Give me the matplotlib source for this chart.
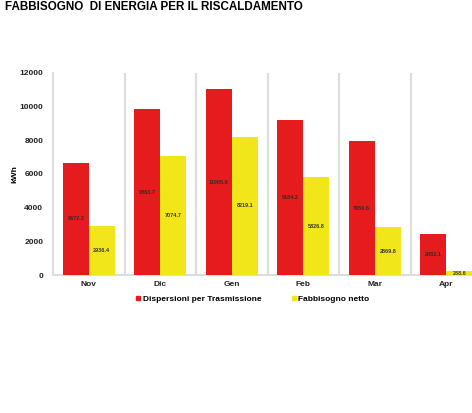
import matplotlib
matplotlib.use("Agg")
import matplotlib.pyplot as plt
from matplotlib.lines import Line2D
import numpy as np

plt.rcParams['font.family'] = ['Liberation Sans', 'DejaVu Sans']

months = ["Nov", "Dic", "Gen", "Feb", "Mar", "Apr"]
dispersioni = [6672.3, 9863.7, 11005.6, 9184.2, 7950.6, 2452.1]
fabbisogno = [2936.4, 7074.7, 8219.1, 5826.8, 2869.8, 238.6]
yticks = [0, 2000, 4000, 6000, 8000, 10000, 12000]
series_names = ["Dispersioni per Trasmissione", "Fabbisogno netto"]
title = "FABBISOGNO  DI ENERGIA PER IL RISCALDAMENTO"

RED = "#E61B1E"
YEL = "#F0E619"

W, H = 472, 413
fig = plt.figure(figsize=(W / 100, H / 100), dpi=100)
left, right = 53, 482
bottom, top = 275.3, 72.7
ax = fig.add_axes([left / W, (H - bottom) / H, (right - left) / W, (bottom - top) / H])

x = np.arange(len(months))
bw = 0.364
ax.bar(x - bw / 2, dispersioni, width=bw, color=RED, zorder=3)
ax.bar(x + bw / 2, fabbisogno, width=bw, color=YEL, zorder=3)

for xi, v in zip(x, dispersioni):
    ax.text(xi - bw / 2, v / 2, f"{v:.1f}", ha="center", va="center",
            fontsize=4, fontweight="bold", color="#3a2a2a", zorder=4)
for xi, v in zip(x, fabbisogno):
    ax.text(xi + bw / 2, max(v / 2, 120), f"{v:.1f}", ha="center", va="center",
            fontsize=4, fontweight="bold", color="#3a3a2a", zorder=4)

for i in range(len(months) - 1):
    ax.axvline(i + 0.5, color="#DDDDDD", lw=1.5, zorder=1)

ax.set_xlim(-0.5, len(months) - 0.5)
ax.set_ylim(0, 12000)
ax.set_yticks(yticks)
ax.set_yticklabels([str(t) for t in yticks], fontsize=6, fontweight="bold", color="#222222")
ax.set_xticks(x)
ax.set_xticklabels(months, fontsize=6, fontweight="bold", color="#222222")
ax.tick_params(axis="both", length=0, pad=7)
ax.tick_params(axis="x", pad=4)
for s in ["top", "right"]:
    ax.spines[s].set_visible(False)
ax.spines["left"].set_color("#DDDDDD")
ax.spines["left"].set_linewidth(1.5)
ax.spines["bottom"].set_color("#DDDDDD")
ax.spines["bottom"].set_linewidth(1.5)
ax.set_ylabel("kWh", fontsize=6, fontweight="bold", labelpad=1)

handles = [Line2D([], [], marker="s", color=RED, linestyle="", markersize=3),
           Line2D([], [], marker="s", color=YEL, linestyle="", markersize=3)]
fig.legend(handles, series_names, loc="center", bbox_to_anchor=(252 / W, 1 - 299 / H),
           ncol=2, frameon=False, prop={"size": 6, "weight": "bold"},
           handletextpad=0.1, columnspacing=3.5, handlelength=0.8)

fig.text(5 / W, 1 - 7 / H, title, fontsize=8.4, fontweight="bold", va="center", ha="left")

fig.savefig("out.png", dpi=100, facecolor="white")
